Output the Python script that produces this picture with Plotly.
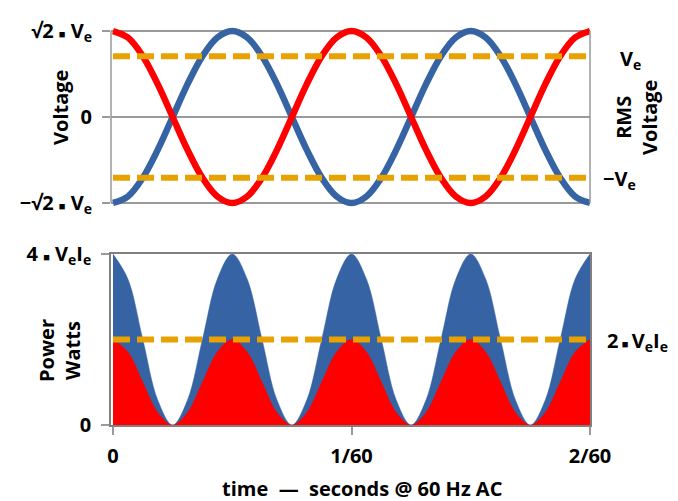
import plotly.graph_objects as go

# time in units of 1/60 s
t = [0, 0.0625, 0.125, 0.1875, 0.25, 0.3125, 0.375, 0.4375, 0.5, 0.5625, 0.625, 0.6875,
     0.75, 0.8125, 0.875, 0.9375, 1.0, 1.0625, 1.125, 1.1875, 1.25, 1.3125, 1.375, 1.4375,
     1.5, 1.5625, 1.625, 1.6875, 1.75, 1.8125, 1.875, 1.9375, 2.0]

# voltage in units of Ve (RMS)
v_red = [1.414, 1.307, 1.0, 0.541, 0.0, -0.541, -1.0, -1.307, -1.414, -1.307, -1.0, -0.541,
         0.0, 0.541, 1.0, 1.307, 1.414, 1.307, 1.0, 0.541, 0.0, -0.541, -1.0, -1.307,
         -1.414, -1.307, -1.0, -0.541, 0.0, 0.541, 1.0, 1.307, 1.414]
v_blue = [-1.414, -1.307, -1.0, -0.541, 0.0, 0.541, 1.0, 1.307, 1.414, 1.307, 1.0, 0.541,
          0.0, -0.541, -1.0, -1.307, -1.414, -1.307, -1.0, -0.541, 0.0, 0.541, 1.0, 1.307,
          1.414, 1.307, 1.0, 0.541, 0.0, -0.541, -1.0, -1.307, -1.414]
rms_t = [0, 2]
rms_pos = [1.0, 1.0]
rms_neg = [-1.0, -1.0]

# power in units of Ve*Ie
p_blue = [4, 3.414, 2, 0.586, 0, 0.586, 2, 3.414, 4, 3.414, 2, 0.586, 0, 0.586, 2, 3.414, 4,
          3.414, 2, 0.586, 0, 0.586, 2, 3.414, 4, 3.414, 2, 0.586, 0, 0.586, 2, 3.414, 4]
p_red = [2, 1.707, 1, 0.293, 0, 0.293, 1, 1.707, 2, 1.707, 1, 0.293, 0, 0.293, 1, 1.707, 2,
         1.707, 1, 0.293, 0, 0.293, 1, 1.707, 2, 1.707, 1, 0.293, 0, 0.293, 1, 1.707, 2]
p_avg = [2, 2]

x_ticks = [0, 1, 2]
x_labels = ["0", "1/60", "2/60"]
v_ticks = [-1.414, 0, 1.414]
DOT = "<span style='font-size:11px'>\u25a0</span>"
v_labels = ["\u2212\u221a2 " + DOT + " V<sub>e</sub>", "0", "\u221a2 " + DOT + " V<sub>e</sub>"]
p_ticks = [0, 4]
p_labels = ["0", "4 " + DOT + " V<sub>e</sub>I<sub>e</sub>"]

BLUE = "#3563a3"
RED = "#ff0000"
ORANGE = "#e8a200"
GRID = "#9a9a9a"
FONT = "Open Sans"
FS = 20

W, H = 678, 501
L, R, T, B = 111, 88, 27, 76
XR = [-0.0084, 2]

fig = go.Figure()
# top panel
fig.add_trace(go.Scatter(x=t, y=v_blue, mode="lines", line=dict(color=BLUE, width=6.5, shape="spline"),
                         xaxis="x", yaxis="y"))
fig.add_trace(go.Scatter(x=t, y=v_red, mode="lines", line=dict(color=RED, width=6.5, shape="spline"),
                         xaxis="x", yaxis="y"))
for yy in (rms_pos, rms_neg):
    fig.add_trace(go.Scatter(x=rms_t, y=yy, mode="lines",
                             line=dict(color=ORANGE, width=6, dash="17px,7px"), xaxis="x", yaxis="y"))
# bottom panel
fig.add_trace(go.Scatter(x=t, y=p_blue, mode="lines", fill="tozeroy", fillcolor=BLUE,
                         line=dict(color=BLUE, width=0.5, shape="spline"), xaxis="x2", yaxis="y2"))
fig.add_trace(go.Scatter(x=t, y=p_red, mode="lines", fill="tozeroy", fillcolor=RED,
                         line=dict(color=RED, width=0.5, shape="spline"), xaxis="x2", yaxis="y2"))
fig.add_trace(go.Scatter(x=rms_t, y=p_avg, mode="lines",
                         line=dict(color=ORANGE, width=6, dash="17px,7px"), xaxis="x2", yaxis="y2"))

plot_h = H - T - B
def py(p):
    return (H - B - p) / plot_h
def px(p):
    return (p - L) / (W - L - R)

top_dom = [py(207), 1]
bot_dom = [0, py(254)]

tickfont = dict(family=FONT, size=FS, color="black", weight="bold")

fig.update_layout(
    width=W, height=H, margin=dict(l=L, r=R, t=T, b=B),
    paper_bgcolor="white", plot_bgcolor="white", showlegend=False,
    font=dict(family=FONT, color="black"),
    xaxis=dict(domain=[0, 1], range=XR, anchor="y", showticklabels=False, showgrid=False,
               zeroline=False, showline=False, ticks=""),
    yaxis=dict(domain=top_dom, range=[-1.48, 1.48], tickvals=v_ticks, ticktext=v_labels,
               showgrid=True, gridcolor=GRID, gridwidth=1.5, zeroline=False, showline=False,
               ticks="outside", ticklen=8, tickcolor=GRID, tickwidth=1.5, tickfont=tickfont,
               ticklabelstandoff=6),
    xaxis2=dict(domain=[0, 1], range=XR, anchor="y2", tickvals=x_ticks, ticktext=x_labels,
                showgrid=False, zeroline=False, showline=True, mirror=True, linecolor="#808080",
                linewidth=1.5, ticks="outside", ticklen=8, tickcolor=GRID, tickwidth=1.5,
                tickfont=tickfont, ticklabelstandoff=4),
    yaxis2=dict(domain=bot_dom, range=[0, 4], anchor="x2", tickvals=p_ticks, ticktext=p_labels,
                showgrid=False, zeroline=False, showline=True, mirror=True, linecolor="#808080",
                linewidth=1.5, ticks="outside", ticklen=8, tickcolor=GRID, tickwidth=1.5,
                tickfont=tickfont, ticklabelstandoff=6),
)

# vertical frame lines of the top panel
for xp in (0, 1):
    fig.add_shape(type="line", xref="paper", yref="y", x0=xp, x1=xp, y0=-1.414, y1=1.414,
                  line=dict(color=GRID, width=1.5))

def ann(text, x, y, xanchor="center", angle=0, size=FS):
    fig.add_annotation(text=text, xref="paper", yref="paper", x=px(x), y=py(y), xanchor=xanchor,
                       yanchor="middle", textangle=angle, showarrow=False,
                       font=dict(family=FONT, size=size, color="black", weight="bold"))

THIN = "\u2009"
ann("Voltage", 60, 108, angle=-90)
ann("Power<br>Watts", 59, 351, angle=-90)
ann("RMS<br>Voltage", 636, 118, angle=-90)
ann("V<sub>e</sub>", 618, 60, xanchor="left")
ann("\u2212V<sub>e</sub>", 601, 179, xanchor="left")
ann("2" + THIN + DOT + THIN + "V<sub>e</sub>I<sub>e</sub>", 605, 341, xanchor="left")
ann("time  \u2014  seconds @ 60 Hz AC", 362, 488)

fig.write_html("out.html", config={"displayModeBar": False},
               post_script=["document.body.style.margin='0px';"])
